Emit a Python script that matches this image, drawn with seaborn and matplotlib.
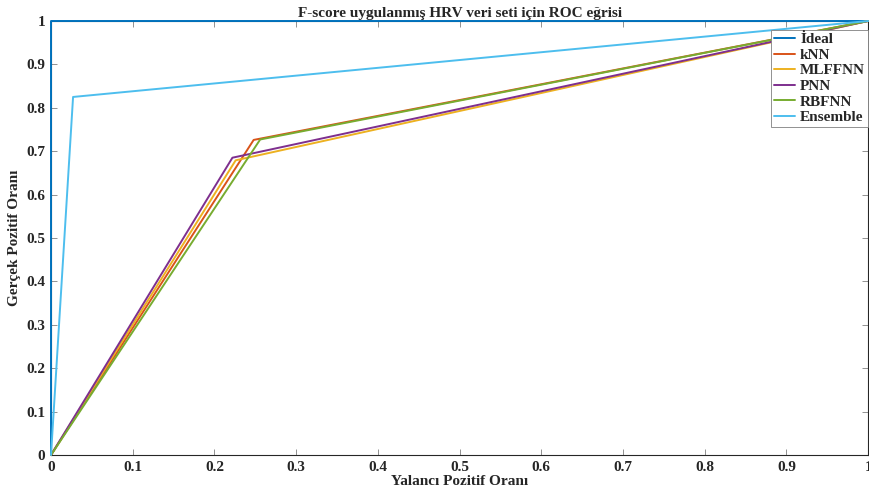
import pandas as pd
import matplotlib.pyplot as plt
import seaborn as sns

# ==========================================
# Data (ROC points)
# ==========================================

models = ["İdeal", "kNN", "MLFFNN", "PNN", "RBFNN", "Ensemble"]

fpr_ideal = [0.0, 0.0, 1.0]
tpr_ideal = [0.0, 1.0, 1.0]

fpr_knn = [0.0, 0.248, 1.0]
tpr_knn = [0.0, 0.726, 1.0]

fpr_mlffnn = [0.0, 0.226, 1.0]
tpr_mlffnn = [0.0, 0.679, 1.0]

fpr_pnn = [0.0, 0.222, 1.0]
tpr_pnn = [0.0, 0.685, 1.0]

fpr_rbfnn = [0.0, 0.256, 1.0]
tpr_rbfnn = [0.0, 0.727, 1.0]

fpr_ensemble = [0.0, 0.027, 1.0]
tpr_ensemble = [0.0, 0.825, 1.0]

colors = ["#0072BD", "#D95319", "#EDB120", "#7E2F8E", "#77AC30", "#4DBEEE"]

fprs = [fpr_ideal, fpr_knn, fpr_mlffnn, fpr_pnn, fpr_rbfnn, fpr_ensemble]
tprs = [tpr_ideal, tpr_knn, tpr_mlffnn, tpr_pnn, tpr_rbfnn, tpr_ensemble]

rows = []
for name, xs, ys in zip(models, fprs, tprs):
    for i, (x, y) in enumerate(zip(xs, ys)):
        rows.append({"model": name, "order": i, "fpr": x, "tpr": y})
df = pd.DataFrame(rows)

# ==========================================
# Plot
# ==========================================

sns.set_style("ticks")
plt.rcParams["font.family"] = ["Liberation Serif", "DejaVu Serif"]
plt.rcParams["font.weight"] = "bold"

fig = plt.figure(figsize=(8.69, 5.0), dpi=100)
ax = fig.add_axes([0.0587, 0.09, 0.9403, 0.868])

sns.lineplot(
    data=df,
    x="fpr",
    y="tpr",
    hue="model",
    hue_order=models,
    palette=colors,
    sort=False,
    estimator=None,
    units="model",
    linewidth=1.4,
    ax=ax,
)

# the ideal curve sits on the axes border, keep it visible
for line in ax.lines:
    line.set_clip_on(False)
    line.set_zorder(3)

ax.set_xlim(0, 1)
ax.set_ylim(0, 1)
ax.set_xticks([i / 10 for i in range(11)])
ax.set_yticks([i / 10 for i in range(11)])
ax.set_xticklabels(["0", "0.1", "0.2", "0.3", "0.4", "0.5", "0.6", "0.7", "0.8", "0.9", "1"])
ax.set_yticklabels(["0", "0.1", "0.2", "0.3", "0.4", "0.5", "0.6", "0.7", "0.8", "0.9", "1"])

for s in ax.spines.values():
    s.set_visible(True)
    s.set_color("#262626")
    s.set_linewidth(0.8)

ax.tick_params(direction="in", length=4, width=0.6, color="#808080",
               labelsize=11, top=True, right=True, pad=4, labelcolor="#262626")
for lbl in ax.get_xticklabels() + ax.get_yticklabels():
    lbl.set_fontweight("bold")

ax.set_xlabel("Yalancı Pozitif Oranı", fontsize=11, fontweight="bold", labelpad=1)
ax.set_ylabel("Gerçek Pozitif Oranı", fontsize=11, fontweight="bold", labelpad=4)
ax.set_title("F-score uygulanmış HRV veri seti için ROC eğrisi",
             fontsize=11, fontweight="bold", pad=3)

leg = ax.legend(
    loc="upper right",
    bbox_to_anchor=(1.0, 0.98),
    fontsize=11,
    frameon=True,
    fancybox=False,
    edgecolor="#808080",
    handlelength=1.4,
    handletextpad=0.3,
    labelspacing=0.12,
    borderpad=0.2,
    borderaxespad=0.0,
    framealpha=1.0,
)
leg.set_zorder(5)
leg.get_frame().set_linewidth(0.6)
for t in leg.get_texts():
    t.set_fontweight("bold")

plt.savefig("out.png", dpi=100)
plt.close()
